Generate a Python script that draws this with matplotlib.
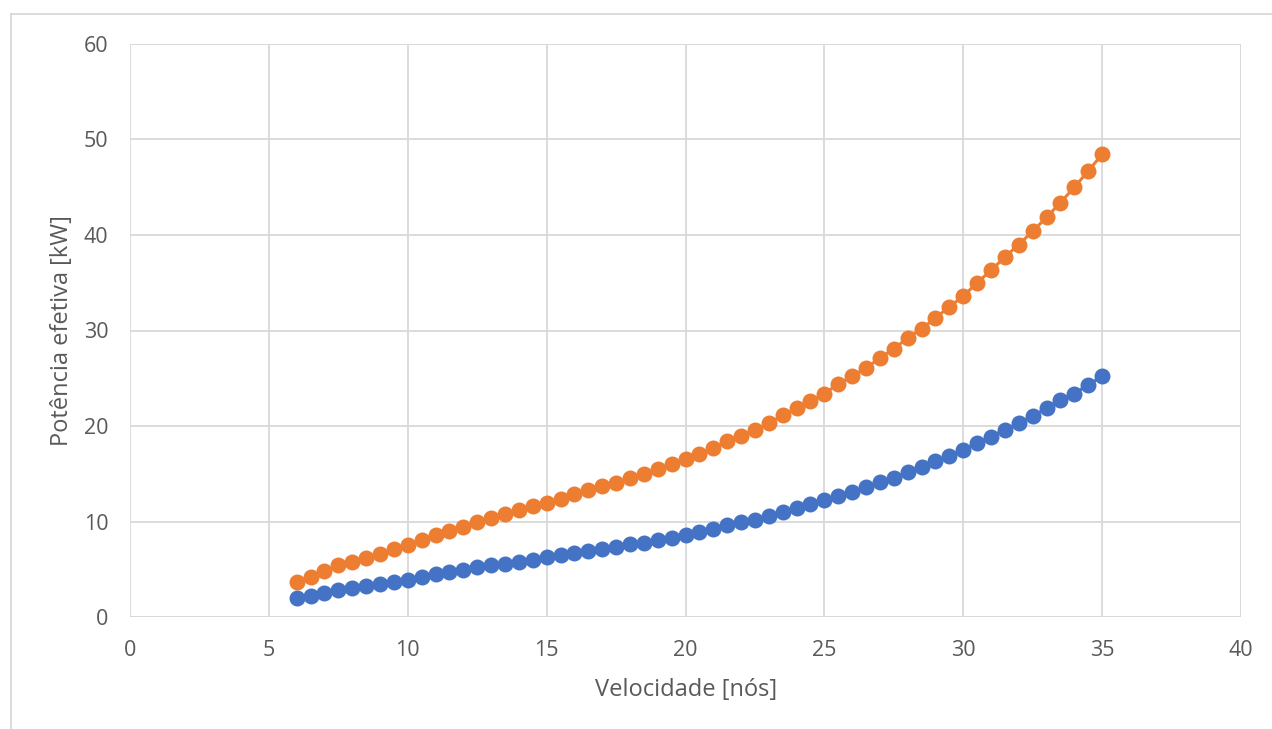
import numpy as np
import matplotlib
matplotlib.use("Agg")
import matplotlib.pyplot as plt
from matplotlib.lines import Line2D

plt.rcParams['font.family'] = ['Open Sans', 'DejaVu Sans']

# Velocidade [nós]
velocidade = [6.0, 6.5, 7.0, 7.5, 8.0, 8.5, 9.0, 9.5, 10.0, 10.5, 11.0, 11.5,
              12.0, 12.5, 13.0, 13.5, 14.0, 14.5, 15.0, 15.5, 16.0, 16.5, 17.0,
              17.5, 18.0, 18.5, 19.0, 19.5, 20.0, 20.5, 21.0, 21.5, 22.0, 22.5,
              23.0, 23.5, 24.0, 24.5, 25.0, 25.5, 26.0, 26.5, 27.0, 27.5, 28.0,
              28.5, 29.0, 29.5, 30.0, 30.5, 31.0, 31.5, 32.0, 32.5, 33.0, 33.5,
              34.0, 34.5, 35.0]

# Potência efetiva [kW] - série azul
potencia_azul = [1.95, 2.2, 2.5, 2.8, 3.0, 3.2, 3.5, 3.7, 3.9, 4.2, 4.5, 4.7,
                 4.9, 5.2, 5.4, 5.6, 5.8, 6.0, 6.25, 6.45, 6.7, 6.9, 7.1,
                 7.3, 7.6, 7.8, 8.1, 8.3, 8.6, 8.9, 9.2, 9.6, 9.9, 10.2,
                 10.6, 11.0, 11.4, 11.8, 12.2, 12.7, 13.1, 13.6, 14.1, 14.6, 15.2,
                 15.7, 16.3, 16.9, 17.5, 18.2, 18.9, 19.6, 20.3, 21.05, 21.85, 22.7,
                 23.4, 24.3, 25.2]

# Potência efetiva [kW] - série laranja
potencia_laranja = [3.7, 4.2, 4.8, 5.4, 5.8, 6.2, 6.6, 7.1, 7.5, 8.1, 8.6, 9.0,
                    9.4, 10.0, 10.4, 10.8, 11.2, 11.6, 11.95, 12.4, 12.9, 13.3, 13.7,
                    14.05, 14.6, 15.0, 15.5, 16.0, 16.5, 17.1, 17.7, 18.4, 19.0, 19.6,
                    20.3, 21.1, 21.9, 22.6, 23.4, 24.4, 25.2, 26.1, 27.1, 28.1, 29.2,
                    30.2, 31.3, 32.5, 33.6, 35.0, 36.3, 37.7, 39.0, 40.4, 41.85, 43.4,
                    45.0, 46.7, 48.45]

x_ticks = [0, 5, 10, 15, 20, 25, 30, 35, 40]
y_ticks = [0, 10, 20, 30, 40, 50, 60]

AZUL = '#4472C4'
LARANJA = '#ED7D31'
TEXTO = '#595959'
GRADE = '#D9D9D9'

W, H = 1272, 729
fig = plt.figure(figsize=(W / 100, H / 100), dpi=100)
fig.patch.set_facecolor('white')

left, right, top, bottom = 130, 1241, 44, 617
ax = fig.add_axes([left / W, 1 - bottom / H, (right - left) / W, (bottom - top) / H])

ax.plot(velocidade, potencia_azul, color=AZUL, lw=2.2, marker='o', ms=11.5,
        markeredgewidth=0, zorder=3)
ax.plot(velocidade, potencia_laranja, color=LARANJA, lw=2.2, marker='o', ms=11.5,
        markeredgewidth=0, zorder=3)

ax.set_xlim(0, 40)
ax.set_ylim(0, 60)
ax.set_xticks(x_ticks)
ax.set_yticks(y_ticks)
ax.grid(True, color=GRADE, lw=1.3)
ax.set_axisbelow(True)
for s in ax.spines.values():
    s.set_visible(False)
ax.axhline(0, color=GRADE, lw=1.3, zorder=1)
ax.axhline(60, color=GRADE, lw=1.3, zorder=1)
ax.axvline(40, color=GRADE, lw=1.3, zorder=1)
ax.tick_params(axis='x', length=0, labelsize=15.5, labelcolor=TEXTO, pad=16.5)
ax.tick_params(axis='y', length=0, labelsize=15.5, labelcolor=TEXTO, pad=15.5)

# títulos dos eixos
fig.text(686 / W, 1 - 690 / H, 'Velocidade [nós]', fontsize=17, color=TEXTO,
         ha='center', va='center')
fig.text(62 / W, 1 - 330.5 / H, 'Potência efetiva [kW]', fontsize=17, color=TEXTO,
         ha='center', va='center', rotation=90)

# moldura externa do gráfico
fig.add_artist(Line2D([11 / W, 1271 / W], [1 - 14 / H, 1 - 14 / H],
                      transform=fig.transFigure, color=GRADE, lw=1.3))
fig.add_artist(Line2D([11 / W, 11 / W], [1 - 14 / H, 0],
                      transform=fig.transFigure, color=GRADE, lw=1.3))

fig.savefig('out.png', dpi=100, facecolor='white')
